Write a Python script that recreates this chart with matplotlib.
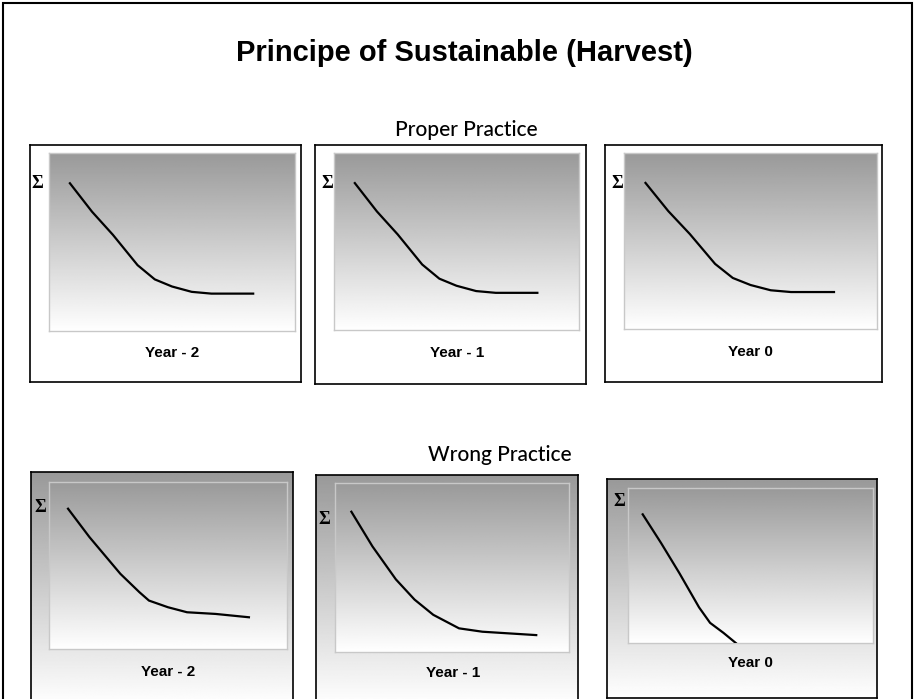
import numpy as np
import matplotlib.pyplot as plt
from matplotlib.patches import Rectangle

W, H = 914, 699

# curve values (x = time, y = stock), axes 0..10
proper_x = [0.85, 1.75, 2.6, 3.6, 4.3, 5.0, 5.8, 6.6, 8.3]
proper_y = [8.3, 6.7, 5.4, 3.7, 2.9, 2.5, 2.2, 2.1, 2.1]

wrong2_x = [0.8, 1.7, 3.0, 3.8, 4.2, 5.0, 5.8, 7.0, 8.4]
wrong2_y = [8.4, 6.7, 4.5, 3.4, 2.9, 2.5, 2.2, 2.1, 1.9]

wrong1_x = [0.7, 1.6, 2.6, 3.4, 4.2, 5.3, 6.3, 8.6]
wrong1_y = [8.3, 6.25, 4.3, 3.1, 2.2, 1.4, 1.2, 1.0]

wrong0_x = [0.6, 1.35, 2.1, 2.9, 3.35, 3.9, 4.4]
wrong0_y = [8.3, 6.45, 4.5, 2.3, 1.3, 0.65, 0.0]

year_labels = ["Year - 2", "Year - 1", "Year 0"]

title = "Principe of Sustainable (Harvest)"
row_titles = ["Proper Practice", "Wrong Practice"]

# pixel boxes: (outer box, inner plot, sigma pos, label pos)
top_boxes = [(30, 145, 301, 382), (315, 145, 586, 384), (605, 145, 882, 382)]
top_inner = [(49, 153, 295, 331), (334, 153, 579, 330), (624, 153, 877, 329)]
top_sigma = [(37, 183), (327, 183), (617, 183)]
top_label = [(172, 353), (457, 353), (750, 352)]

bot_boxes = [(31, 472, 293, 705), (316, 475, 578, 705), (607, 479, 877, 698)]
bot_inner = [(49, 482, 287, 649), (335, 483, 569, 652), (628, 488, 873, 643)]
bot_sigma = [(40, 508), (324, 520), (619, 502)]
bot_label = [(168, 672), (453, 673), (750, 663)]

grad = np.linspace(0.6, 1.0, 256).reshape(-1, 1)

fig = plt.figure(figsize=(W / 100, H / 100), dpi=100)
fig.patch.set_facecolor("white")


def px_axes(box):
    x0, y0, x1, y1 = box
    return fig.add_axes([x0 / W, 1 - y1 / H, (x1 - x0) / W, (y1 - y0) / H])


def gradient(ax):
    ax.imshow(grad, cmap="gray", vmin=0, vmax=1, aspect="auto",
              extent=[0, 1, 0, 1], transform=ax.transAxes, zorder=0)


def panel(box, inner, sig, lab, text, xs, ys, shaded):
    ob = px_axes(box)
    ob.set_xticks([])
    ob.set_yticks([])
    ob.set_xlim(0, 1)
    ob.set_ylim(0, 1)
    if shaded:
        gradient(ob)
    for s in ob.spines.values():
        s.set_linewidth(1.2)
        s.set_color("black")
    ax = px_axes(inner)
    gradient(ax)
    ax.plot(xs, ys, color="black", lw=1.6, zorder=3,
            solid_joinstyle="round")
    ax.set_xlim(0, 10)
    ax.set_ylim(0, 10)
    ax.set_xticks([])
    ax.set_yticks([])
    for s in ax.spines.values():
        s.set_color("#c8c8c8")
        s.set_linewidth(1.0)
    fig.text(sig[0] / W, 1 - sig[1] / H, "Σ", family="Liberation Serif",
             fontsize=13, fontweight="bold", ha="center", va="center")
    fig.text(lab[0] / W, 1 - lab[1] / H, text,
             family=["Liberation Sans Narrow", "Liberation Sans"],
             fontweight="bold", fontsize=11, ha="center", va="center")


top_curves = [(proper_x, proper_y)] * 3
bot_curves = [(wrong2_x, wrong2_y), (wrong1_x, wrong1_y), (wrong0_x, wrong0_y)]

for i in range(3):
    panel(top_boxes[i], top_inner[i], top_sigma[i], top_label[i],
          year_labels[i], top_curves[i][0], top_curves[i][1], False)
    panel(bot_boxes[i], bot_inner[i], bot_sigma[i], bot_label[i],
          year_labels[i], bot_curves[i][0], bot_curves[i][1], True)

fig.text(464 / W, 1 - 53 / H, title, family="Liberation Sans",
         fontweight="bold", fontsize=21, ha="center", va="center")
fig.text(466 / W, 1 - 130 / H, row_titles[0], family="Lato",
         fontsize=15, fontweight="medium", ha="center", va="center")
fig.text(500 / W, 1 - 455 / H, row_titles[1], family="Lato",
         fontsize=15, fontweight="medium", ha="center", va="center")

# outer frame
fig.patches.append(Rectangle((3 / W, -0.05), 909 / W, 1 - 3 / H + 0.05,
                             transform=fig.transFigure, fill=False,
                             edgecolor="black", lw=1.5))

fig.savefig("out.png", dpi=100)
